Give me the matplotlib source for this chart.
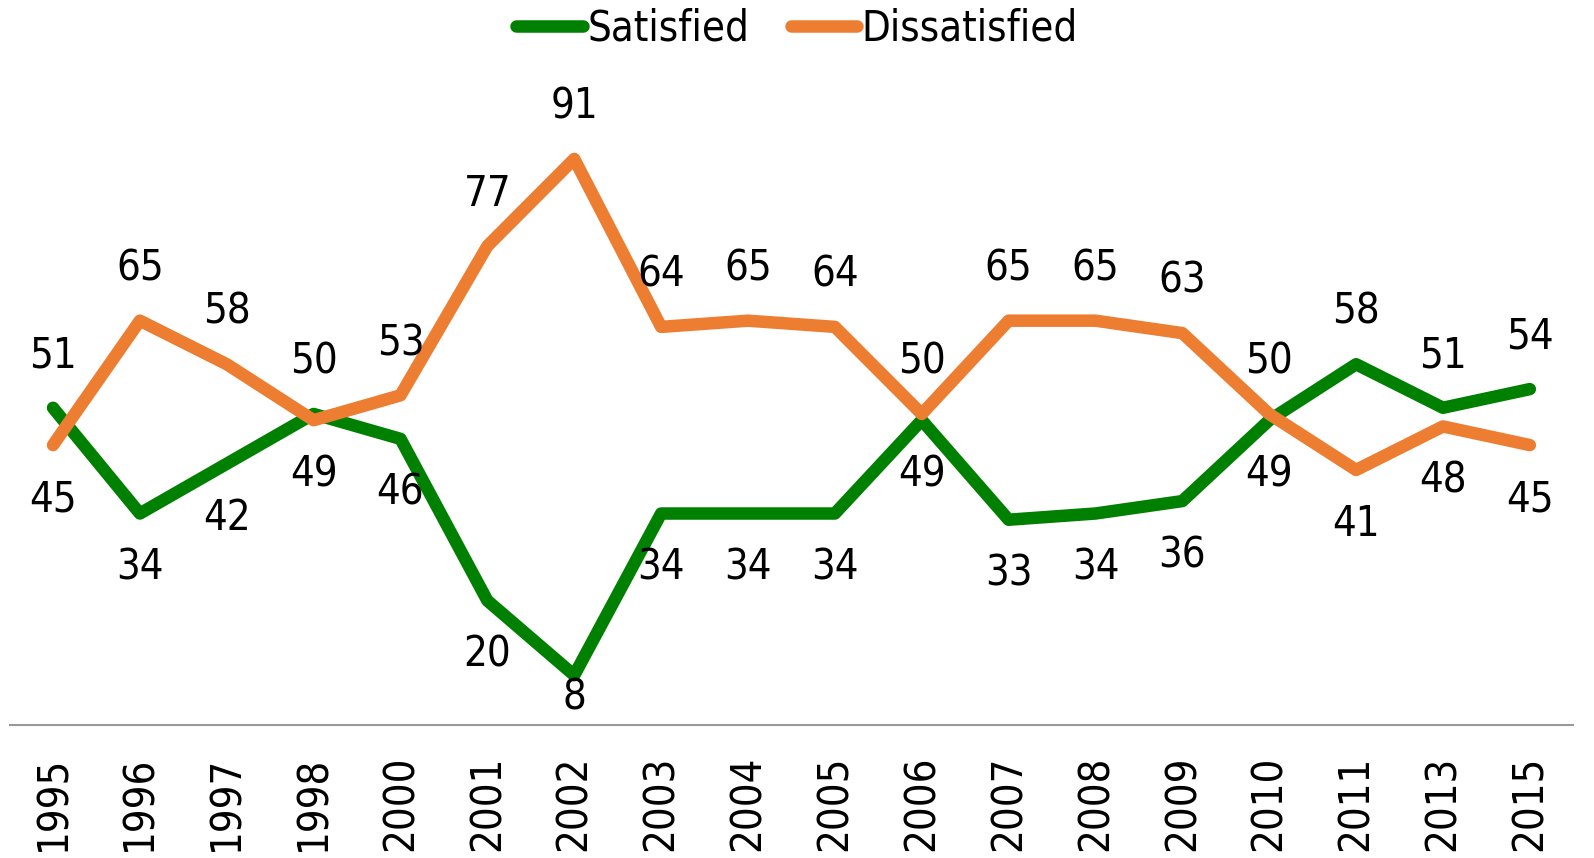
import matplotlib.pyplot as plt
import numpy as np

years = ['1995', '1996', '1997', '1998', '2000', '2001', '2002', '2003', '2004',
         '2005', '2006', '2007', '2008', '2009', '2010', '2011', '2013', '2015']
satisfied = [51, 34, 42, 50, 46, 20, 8, 34, 34, 34, 49, 33, 34, 36, 49, 58, 51, 54]
dissatisfied = [45, 65, 58, 49, 53, 77, 91, 64, 65, 64, 50, 65, 65, 63, 50, 41, 48, 45]

plt.rcParams['font.family'] = ['DejaVu Sans']
plt.rcParams['font.stretch'] = 'condensed'

fig = plt.figure(figsize=(15.94, 8.58), dpi=100)
ax = fig.add_axes([0.006, 0.155, 0.981, 0.725])

x = np.arange(len(years))
green = '#008000'
orange = '#ED7D31'
ax.plot(x, satisfied, color=green, lw=9, label='Satisfied', solid_capstyle='round')
ax.plot(x, dissatisfied, color=orange, lw=9, label='Dissatisfied', solid_capstyle='round')

# labels: higher value above, lower below (kept above the axis line)
for i in x:
    s, d = satisfied[i], dissatisfied[i]
    for v, other in ((s, d), (d, s)):
        ly = v + 8.4 if v >= other else max(v - 8.7, 4.5)
        ax.text(i, ly, str(v), ha='center', va='center', fontsize=30,
                fontstretch='condensed')

ax.set_xlim(-0.5, len(years) - 0.5)
ax.set_ylim(0, 100)
ax.set_xticks(x)
ax.set_xticklabels(years, rotation=90, fontsize=30, fontstretch='condensed')
ax.tick_params(axis='x', length=0, pad=22)
ax.set_yticks([])
for side in ['top', 'right', 'left']:
    ax.spines[side].set_visible(False)
ax.spines['bottom'].set_color('#999999')
ax.spines['bottom'].set_linewidth(1.5)

fig.legend(loc='upper center', bbox_to_anchor=(0.5, 1.035), ncol=2, frameon=False,
           prop={'size': 30, 'stretch': 'condensed'},
           handlelength=1.6, handletextpad=0.1, columnspacing=1.0)

fig.savefig('out.png', dpi=100)
